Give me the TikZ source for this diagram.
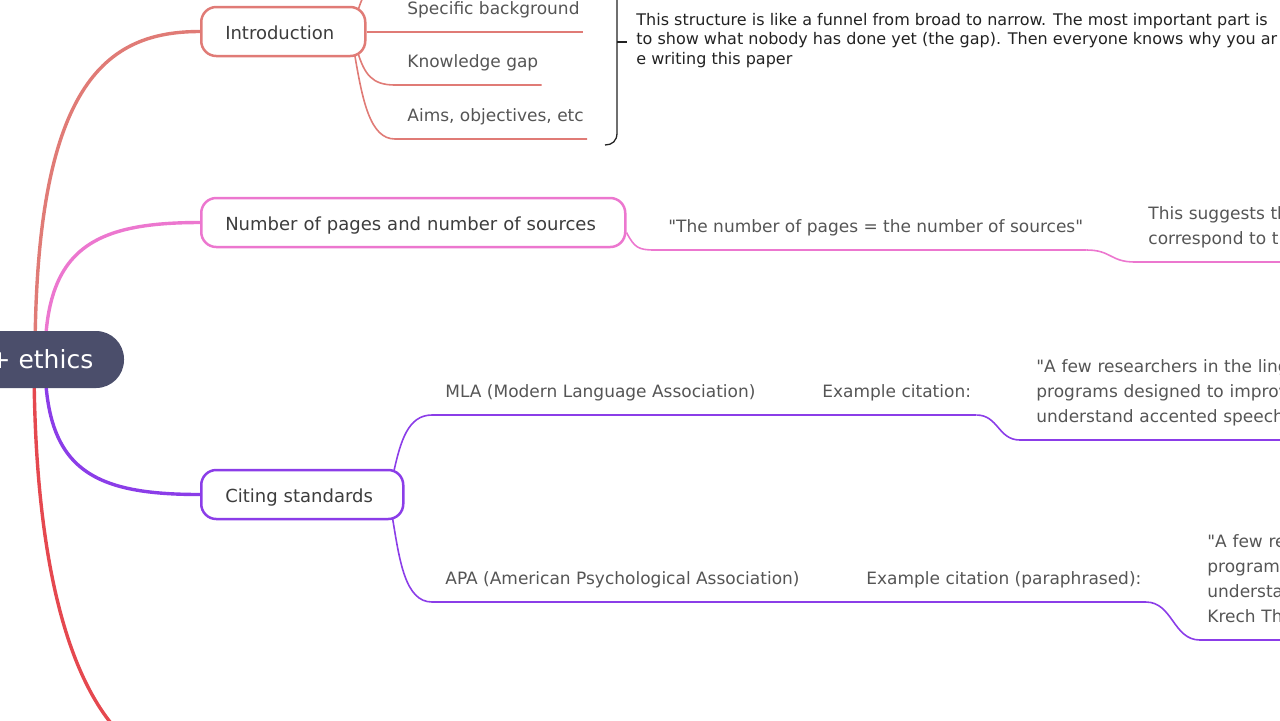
\documentclass[tikz,border=0pt]{standalone}
\usepackage{fontspec}
\setmainfont{DejaVu Sans}
\usetikzlibrary{positioning,backgrounds}
\definecolor{rootFill}{HTML}{4B4E6B}
\definecolor{introCol}{HTML}{E07B76}
\definecolor{pagesCol}{HTML}{EC77CF}
\definecolor{citeCol}{HTML}{8B3DE8}
\definecolor{lastCol}{HTML}{E5484F}
\definecolor{topicText}{HTML}{3D3D3D}
\definecolor{subText}{HTML}{555555}
\definecolor{noteText}{HTML}{222222}
\tikzset{root node/.style={fill=rootFill, text=white, rounded corners=14pt,
    minimum width=82.5pt, minimum height=28.5pt, inner sep=0pt,
    font=\fontsize{12.5}{15}\selectfont}}
\tikzset{topic node/.style={draw=#1, line width=1.25pt, fill=white, text=topicText,
    rounded corners=7.5pt, minimum height=24.5pt, inner xsep=12pt, anchor=west,
    text height=8pt, text depth=0.5pt, align=left, font=\fontsize{9}{11}\selectfont}}
\tikzset{sub node/.style={anchor=south west, inner xsep=0pt, inner ysep=5pt,
    align=left, text=subText, font=\fontsize{8.5}{12.5}\selectfont,
    execute at end node=\strut}}
\tikzset{note text/.style={anchor=north west, inner sep=0pt, align=left,
    text=noteText, font=\fontsize{8}{9.75}\selectfont}}
\tikzset{branch edge/.style={draw=#1, line width=1.7pt}}
\tikzset{sub edge/.style={draw=#1, line width=0.8pt}}
\tikzset{brace line/.style={draw=noteText, line width=0.65pt}}
\newcommand{\qt}{\textquotedbl}

\begin{document}
\begin{tikzpicture}[x=0.5pt, y=-0.5pt]
  \path[use as bounding box] (0,0) rectangle (1280,720);
  \clip (0,0) rectangle (1280,720);

  % central topic and main topics
  \node [root node] (root) at (41.5,359.5) {+ ethics};

  \node [topic node=introCol, text width=58pt]  (intro) at (200,31.5)  {Introduction};
  \node [topic node=pagesCol, text width=188pt] (pages) at (200,222.5) {Number of pages and number of sources};
  \node [topic node=citeCol, text width=77pt]   (cite)  at (200,494.5) {Citing standards};
  \coordinate (next) at (200,770);

  % introduction
  \coordinate (genbg) at (395,-21.5);
  \node [sub node] (specbg) at (407,32)  {Specific background};
  \node [sub node] (gap)    at (407,85)  {Knowledge gap};
  \node [sub node] (aims)   at (407,139) {Aims, objectives, etc};
  \coordinate (brace) at (617,42);
  \node [note text] (note) at (636,12.5)
    {This structure is like a funnel from broad to narrow. The most important part is\\
     to show what nobody has done yet (the gap). Then everyone knows why you ar\\
     e writing this paper};

  % number of pages
  \node [sub node] (rule) at (668,250) {\qt The number of pages = the number of sources\qt};
  \node [sub node, text width=150pt] (suggest) at (1148,262) {This suggests th\\correspond to th};

  % citing standards
  \node [sub node] (mla)      at (445,415)  {MLA (Modern Language Association)};
  \node [sub node] (mlaex)    at (822,415)  {Example citation:};
  \node [sub node, text width=150pt] (mlaquote) at (1036,440)
    {\qt A few researchers in the ling\\programs designed to improv\\understand accented speech};
  \node [sub node] (apa)      at (445,602)  {APA (American Psychological Association)};
  \node [sub node] (apaex)    at (866,602)  {Example citation (paraphrased):};
  \node [sub node, text width=150pt] (apaquote) at (1207,640)
    {\qt A few re\\program\\understa\\Krech Th};

  % summary bracket
  \draw [brace line] (605,-30) .. controls (612,-30) and (617,-27) .. (617,-20)
    -- (617,133) .. controls (617,141) and (612,145) .. (605,145);
  \draw [brace line] (brace) -- ++(10,0);

  \begin{pgfonlayer}{background}
    % main branches
    \draw [branch edge=introCol] ([xshift=-3.25pt]root.center) .. controls +(0,-275) and +(-95,0) .. (intro.west);
    \draw [branch edge=pagesCol] ([xshift=1.75pt]root.center)  .. controls +(0,-110) and +(-108,0) .. (pages.west);
    \draw [branch edge=citeCol]  ([xshift=1.75pt]root.center)  .. controls +(0,110) and +(-108,0) .. (cite.west);
    \draw [branch edge=lastCol]  ([xshift=-3.75pt]root.center) .. controls +(0,300) and +(-90,0) .. (next);

    % introduction
    \draw [sub edge=introCol] ([xshift=-4.5pt,yshift=9.75pt]intro.east) .. controls +(7,-23) and +(-23,0) .. (genbg) -- ++(210,0);
    \draw [sub edge=introCol] (intro.east |- specbg.south) -- ([xshift=1.5pt]specbg.south east);
    \draw [sub edge=introCol] ([xshift=-4.5pt,yshift=-10pt]intro.east) .. controls +(7,23) and +(-23,0) .. ([xshift=-6pt]gap.south west) -- ([xshift=1.5pt]gap.south east);
    \draw [sub edge=introCol] ([xshift=-6pt,yshift=-11pt]intro.east) .. controls +(8,47) and +(-25,0) .. ([xshift=-6pt]aims.south west) -- ([xshift=1.5pt]aims.south east);

    % number of pages
    \draw [sub edge=pagesCol] ([yshift=-5pt]pages.east) .. controls +(8,15) and +(-17,0) .. ([xshift=-6.5pt]rule.south west) -- ([xshift=1.5pt]rule.south east);
    \draw [sub edge=pagesCol] ([xshift=1.5pt]rule.south east) .. controls +(25,0) and +(-25,0) .. ([xshift=-6.5pt]suggest.south west) -- (suggest.south east);

    % citing standards
    \draw [sub edge=citeCol] ([xshift=-5.5pt,yshift=10.75pt]cite.east) .. controls +(7,-32) and +(-24,0) .. ([xshift=-6.5pt]mla.south west) -- ([xshift=2pt]mla.south east);
    \draw [sub edge=citeCol] ([xshift=2pt]mla.south east) -- (mlaex.south west) -- ([xshift=2.5pt]mlaex.south east);
    \draw [sub edge=citeCol] ([xshift=2.5pt]mlaex.south east) .. controls +(22,0) and +(-22,0) .. ([xshift=-8pt]mlaquote.south west) -- (mlaquote.south east);
    \draw [sub edge=citeCol] ([xshift=-6pt,yshift=-11.75pt]cite.east) .. controls +(7,42) and +(-27,0) .. ([xshift=-6.5pt]apa.south west) -- ([xshift=1.5pt]apa.south east);
    \draw [sub edge=citeCol] ([xshift=1.5pt]apa.south east) -- (apaex.south west) -- ([xshift=2pt]apaex.south east);
    \draw [sub edge=citeCol] ([xshift=2pt]apaex.south east) .. controls +(27,0) and +(-27,0) .. ([xshift=-3.5pt]apaquote.south west) -- (apaquote.south east);
  \end{pgfonlayer}
\end{tikzpicture}
\end{document}
